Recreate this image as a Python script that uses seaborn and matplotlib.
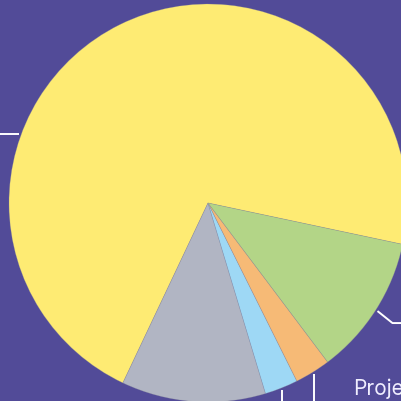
import numpy as np
import matplotlib.pyplot as plt
import seaborn as sns

sns.set_style("white")
plt.rcParams['font.family'] = ['Inter', 'DejaVu Sans']

# Slice data (counter-clockwise order from the start angle)
categories = ['Other', 'Operations', 'Research', 'Projects', 'Design']
shares = [71.3, 11.7, 2.7, 2.9, 11.4]
colors = ['#FEEB73', '#B1B5C3', '#9ED8F5', '#F6BA76', '#B3D587']

BG = '#524B98'
W = H = 402
cx, cy, R = 208, H - 204, 199
start = -12.0

fig = plt.figure(figsize=(4.02, 4.02), dpi=100, facecolor=BG)
ax = fig.add_axes([0, 0, 1, 1])
ax.set_facecolor(BG)

wedges, _ = ax.pie(shares, colors=colors, startangle=start, counterclock=True,
                   center=(cx, cy), radius=R, frame=True,
                   wedgeprops=dict(edgecolor=(0.55, 0.55, 0.6, 0.35), linewidth=0.5))

ax.set_xlim(0, W)
ax.set_ylim(0, H)
ax.set_aspect('equal')
ax.axis('off')

# Leader lines
line_kw = dict(color='white', lw=1.4, solid_capstyle='butt', clip_on=False)
for w, cat in zip(wedges, categories):
    mid = np.deg2rad((w.theta1 + w.theta2) / 2)
    x0 = cx + (R + 2) * np.cos(mid)
    y0 = cy + (R + 2) * np.sin(mid)
    if cat == 'Design':
        ax.plot([x0, x0 + 15, W + 10], [y0, y0 - 12, y0 - 12], **line_kw)
    elif cat in ('Projects', 'Research'):
        ax.plot([x0, x0], [y0, -10], **line_kw)
    elif cat == 'Other':
        a = np.deg2rad(160)
        lx = cx + (R + 2) * np.cos(a)
        ly = cy + (R + 2) * np.sin(a)
        ax.plot([lx, -10], [ly, ly], **line_kw)

ax.text(353, 7, 'Projects', color='#F0EEFF', fontsize=15,
        ha='left', va='baseline')

plt.savefig('out.png', dpi=100, facecolor=BG)
plt.close()
